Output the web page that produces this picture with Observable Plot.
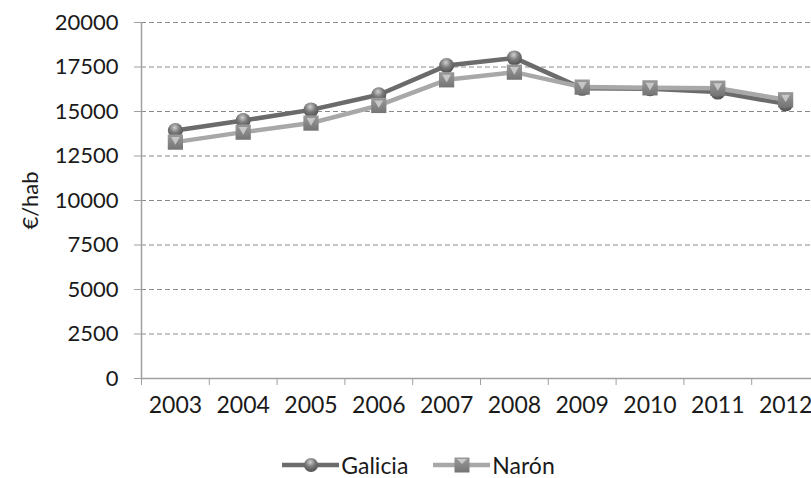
<!DOCTYPE html>
<html>
<head>
<meta charset="utf-8">
<script src="https://cdn.jsdelivr.net/npm/d3@7"></script>
<script src="https://cdn.jsdelivr.net/npm/@observablehq/plot@0.6"></script>
<style>
  html, body { margin: 0; padding: 0; background: #fff; overflow: hidden; }
  #legend { display: flex; justify-content: center; align-items: center; height: 38px; padding-top: 12px; line-height: 24px;
            font-family: Lato, sans-serif; font-size: 23px; color: #1a1a1a; padding-left: 26px; box-sizing: border-box; width: 811px; }
  .item { display: flex; align-items: center; height: 24px; }
  .item svg { display: block; }
</style>
</head>
<body>
<div id="chart"></div>
<div id="legend"></div>
<script>
const years = [2003, 2004, 2005, 2006, 2007, 2008, 2009, 2010, 2011, 2012];
const galicia = [13930, 14490, 15090, 15940, 17580, 18010, 16300, 16280, 16090, 15430];
const naron = [13280, 13840, 14350, 15340, 16780, 17210, 16370, 16330, 16310, 15660];
const yTicks = [0, 2500, 5000, 7500, 10000, 12500, 15000, 17500, 20000];
const seriesNames = ["Galicia", "Narón"];
const lineColors = ["#6b6b6b", "#a8a8a8"];

const data = years.flatMap((y, i) => [
  {year: y, series: "Galicia", value: galicia[i]},
  {year: y, series: "Narón", value: naron[i]}
]);
const gal = data.filter(d => d.series === "Galicia");
const nar = data.filter(d => d.series === "Narón");
const boundaries = [years[0] - 0.5, ...years.map(y => y + 0.5)];

const chart = Plot.plot({
  width: 811,
  height: 440,
  marginTop: 22,
  marginBottom: 62,
  marginLeft: 141,
  marginRight: 0,
  x: {type: "linear", domain: [years[0] - 0.5, years[years.length - 1] + 0.5], range: [141, 819]},
  y: {domain: [0, 20000]},
  style: {fontFamily: "Lato, sans-serif", fontSize: "23px", color: "#1a1a1a", background: "#fff", overflow: "hidden"},
  marks: [
    Plot.gridY(yTicks.filter(d => d > 0), {stroke: "#8a8a8a", strokeOpacity: 1, strokeDasharray: "5,3"}),
    Plot.axisY({ticks: yTicks, tickSize: 7, tickPadding: 16, tickFormat: d => String(d),
                label: "€/hab", labelAnchor: "center", labelOffset: 119, labelArrow: "none", stroke: "#a0a0a0", fontSize: 22}),
    Plot.axisX({ticks: years, tickSize: 0, tickPadding: 18, tickFormat: d => String(d), label: null, fontSize: 23}),
    Plot.axisX({ticks: boundaries, tickSize: 7, tickFormat: () => "", label: null, stroke: "#a0a0a0"}),
    Plot.ruleX([boundaries[0]], {stroke: "#a0a0a0", strokeWidth: 1.5}),
    Plot.ruleY([0], {stroke: "#a0a0a0", strokeWidth: 1.5}),
    Plot.line(gal, {x: "year", y: "value", stroke: lineColors[0], strokeWidth: 4.5}),
    Plot.line(nar, {x: "year", y: "value", stroke: lineColors[1], strokeWidth: 4.5}),
    Plot.dot(gal, {x: "year", y: "value", r: 7.5, fill: "url(#gradG)", stroke: "none", ariaLabel: "gdots"}),
    Plot.dot(nar, {x: "year", y: "value", symbol: "square", r: 8.6, fill: "url(#gradN)", stroke: "none", ariaLabel: "ndots"}),
    Plot.dot(nar, {x: "year", y: "value", symbol: "triangle2", r: 4.2, dy: -2.5, rotate: 180, fill: "#d9d9d9", fillOpacity: 0.75, stroke: "none"})
  ]
});

const defs = `
<defs>
  <radialGradient id="gradG" cx="0.45" cy="0.3" r="0.75">
    <stop offset="0" stop-color="#d0d0d0"/>
    <stop offset="0.45" stop-color="#7a7a7a"/>
    <stop offset="1" stop-color="#4a4a4a"/>
  </radialGradient>
  <linearGradient id="gradN" x1="0" y1="0" x2="0" y2="1">
    <stop offset="0" stop-color="#9a9a9a"/>
    <stop offset="1" stop-color="#747474"/>
  </linearGradient>
  <filter id="shadow" x="-50%" y="-50%" width="200%" height="200%">
    <feDropShadow dx="0" dy="2" stdDeviation="1.6" flood-color="#000" flood-opacity="0.35"/>
  </filter>
</defs>`;
chart.insertAdjacentHTML("afterbegin", defs);
d3.select(chart).selectAll('g[aria-label="gdots"], g[aria-label="ndots"]').attr("filter", "url(#shadow)");
document.getElementById("chart").appendChild(chart);

// Legend
const legend = d3.select("#legend");
seriesNames.forEach((name, i) => {
  const item = legend.append("div").attr("class", "item").style("margin-right", i === 0 ? "25px" : "0px");
  const s = item.append("svg").attr("width", 57).attr("height", 24);
  s.append("line").attr("x1", 0).attr("x2", 57).attr("y1", 12).attr("y2", 12)
    .attr("stroke", lineColors[i]).attr("stroke-width", 4.5);
  if (i === 0) {
    s.append("circle").attr("cx", 29).attr("cy", 12).attr("r", 7).attr("fill", "url(#gradG)");
  } else {
    s.append("rect").attr("x", 21.5).attr("y", 4.5).attr("width", 15).attr("height", 15).attr("fill", "url(#gradN)");
    s.append("path").attr("d", "M24,6 L34,6 L29,11 Z").attr("fill", "#d9d9d9").attr("fill-opacity", 0.75);
  }
  item.append("span").style("margin-left", "2px").text(name);
});
</script>
</body>
</html>
